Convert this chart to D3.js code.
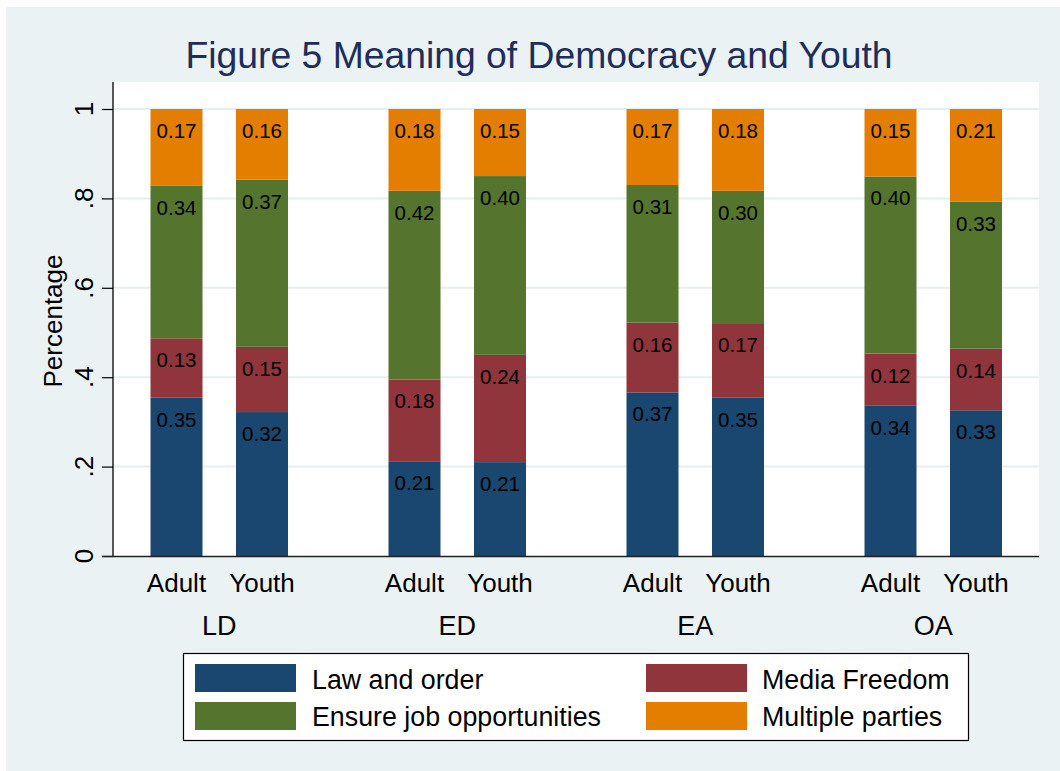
<!DOCTYPE html>
<html>
<head>
<meta charset="utf-8">
<script src="https://cdn.jsdelivr.net/npm/d3@7"></script>
<style>
  html, body { margin: 0; padding: 0; background: #ffffff; }
  svg { display: block; font-family: "Liberation Sans", Arial, Helvetica, sans-serif; }
</style>
</head>
<body>
<svg id="chart" width="1060" height="771"></svg>
<script>
// ---- data ----
const groups = ["LD", "ED", "EA", "OA"];
const ages = ["Adult", "Youth"];
const seriesNames = ["Law and order", "Media Freedom", "Ensure job opportunities", "Multiple parties"];
// values in order: LD Adult, LD Youth, ED Adult, ED Youth, EA Adult, EA Youth, OA Adult, OA Youth
const lawOrder     = [0.354, 0.322, 0.212, 0.210, 0.366, 0.354, 0.336, 0.326];
const mediaFreedom = [0.133, 0.146, 0.183, 0.240, 0.156, 0.167, 0.117, 0.138];
const jobs         = [0.341, 0.374, 0.422, 0.400, 0.308, 0.296, 0.396, 0.329];
const parties      = [0.172, 0.158, 0.183, 0.150, 0.170, 0.183, 0.151, 0.207];
const yTicks = [0, 0.2, 0.4, 0.6, 0.8, 1];
const yTickLabels = ["0", ".2", ".4", ".6", ".8", "1"];
const colors = ["#1A476F", "#90353B", "#55752F", "#E37E00"];

// ---- build rows ----
const rows = [];
groups.forEach((g, gi) => ages.forEach((a, ai) => {
  const i = gi * 2 + ai;
  rows.push({ group: g, age: a, s0: lawOrder[i], s1: mediaFreedom[i], s2: jobs[i], s3: parties[i] });
}));
const stackKeys = ["s0", "s1", "s2", "s3"]; // law, media, jobs, parties (bottom to top)
const stacked = d3.stack().keys(stackKeys)(rows);

// ---- layout ----
const svg = d3.select("#chart");
const W = 1060, H = 771;
const plot = { left: 113, right: 1039, top: 82, bottom: 556 };

svg.append("rect").attr("x", 0).attr("y", 0).attr("width", W).attr("height", H).attr("fill", "#ffffff");
svg.append("rect").attr("x", 6).attr("y", 7).attr("width", W - 6).attr("height", H - 7).attr("fill", "#EAF2F3");
svg.append("rect").attr("x", plot.left).attr("y", plot.top)
  .attr("width", plot.right - plot.left).attr("height", plot.bottom - plot.top).attr("fill", "#ffffff");

const y = d3.scaleLinear().domain([0, 1]).range([556, 109]);
const xg = d3.scalePoint().domain(groups).range([219.25, 933.25]);
const xa = d3.scalePoint().domain(ages).range([-42.75, 42.75]);
const barW = 52;

// gridlines
svg.append("g").selectAll("line").data(yTicks.filter(t => t > 0)).join("line")
  .attr("x1", plot.left).attr("x2", plot.right)
  .attr("y1", d => y(d)).attr("y2", d => y(d))
  .attr("stroke", "#E6EEF1").attr("stroke-width", 2);

// bars
const layer = svg.append("g").selectAll("g").data(stacked).join("g")
  .attr("fill", (d, i) => colors[i]);
layer.selectAll("rect").data(d => d).join("rect")
  .attr("x", d => xg(d.data.group) + xa(d.data.age) - barW / 2)
  .attr("width", barW)
  .attr("y", d => y(d[1]))
  .attr("height", d => y(d[0]) - y(d[1]));

// value labels
const fmt = d3.format(".2f");
const lab = svg.append("g").attr("font-size", 20.5).attr("fill", "#000").attr("text-anchor", "middle");
stacked.forEach(s => {
  s.forEach(d => {
    lab.append("text")
      .attr("x", xg(d.data.group) + xa(d.data.age))
      .attr("y", y(d[1]) + 29)
      .text(fmt(d[1] - d[0]));
  });
});

// y axis
const yAxis = d3.axisLeft(y).tickValues(yTicks).tickSize(11).tickFormat("");
const ya = svg.append("g").attr("transform", `translate(${plot.left},0)`).call(yAxis);
ya.select(".domain").remove();
ya.selectAll(".tick line").attr("stroke", "#000").attr("stroke-width", 1.2);
svg.append("line").attr("x1", plot.left).attr("x2", plot.left).attr("y1", plot.top).attr("y2", plot.bottom)
  .attr("stroke", "#000").attr("stroke-width", 1.3);
svg.append("line").attr("x1", plot.left - 11).attr("x2", plot.right).attr("y1", plot.bottom + 0.5).attr("y2", plot.bottom + 0.5)
  .attr("stroke", "#222").attr("stroke-width", 1.3);
svg.append("g").selectAll("text").data(yTicks).join("text")
  .attr("transform", (d) => `translate(93,${y(d)}) rotate(-90)`)
  .attr("text-anchor", "middle").attr("font-size", 26).attr("fill", "#000")
  .text((d, i) => yTickLabels[i]);

svg.append("text").attr("transform", "translate(62,321) rotate(-90)")
  .attr("text-anchor", "middle").attr("font-size", 26).attr("fill", "#000").text("Percentage");

// x labels
rows.forEach(r => {
  svg.append("text").attr("x", xg(r.group) + xa(r.age)).attr("y", 592)
    .attr("text-anchor", "middle").attr("font-size", 26).attr("fill", "#000").text(r.age);
});
groups.forEach(g => {
  svg.append("text").attr("x", xg(g)).attr("y", 635)
    .attr("text-anchor", "middle").attr("font-size", 27).attr("fill", "#000").text(g);
});

// title
svg.append("text").attr("x", 539).attr("y", 68).attr("text-anchor", "middle")
  .attr("font-size", 37.3).attr("fill", "#1E2D5A").text("Figure 5 Meaning of Democracy and Youth");

// legend
const lg = svg.append("g");
lg.append("rect").attr("x", 183.5).attr("y", 653.5).attr("width", 785).attr("height", 87)
  .attr("fill", "#ffffff").attr("stroke", "#000").attr("stroke-width", 1.2);
const legPos = [
  { sx: 195, sy: 664, tx: 312, ty: 689 },
  { sx: 646, sy: 664, tx: 762, ty: 689 },
  { sx: 195, sy: 702, tx: 312, ty: 726 },
  { sx: 646, sy: 702, tx: 762, ty: 726 }
];
const legItems = seriesNames.map((n, i) => ({ name: n, color: colors[i] }));
legItems.forEach((it, i) => {
  const p = legPos[i];
  lg.append("rect").attr("x", p.sx).attr("y", p.sy).attr("width", 101).attr("height", 28).attr("fill", it.color);
  lg.append("text").attr("x", p.tx).attr("y", p.ty).attr("font-size", 26.8).attr("fill", "#000").text(it.name);
});
</script>
</body>
</html>
